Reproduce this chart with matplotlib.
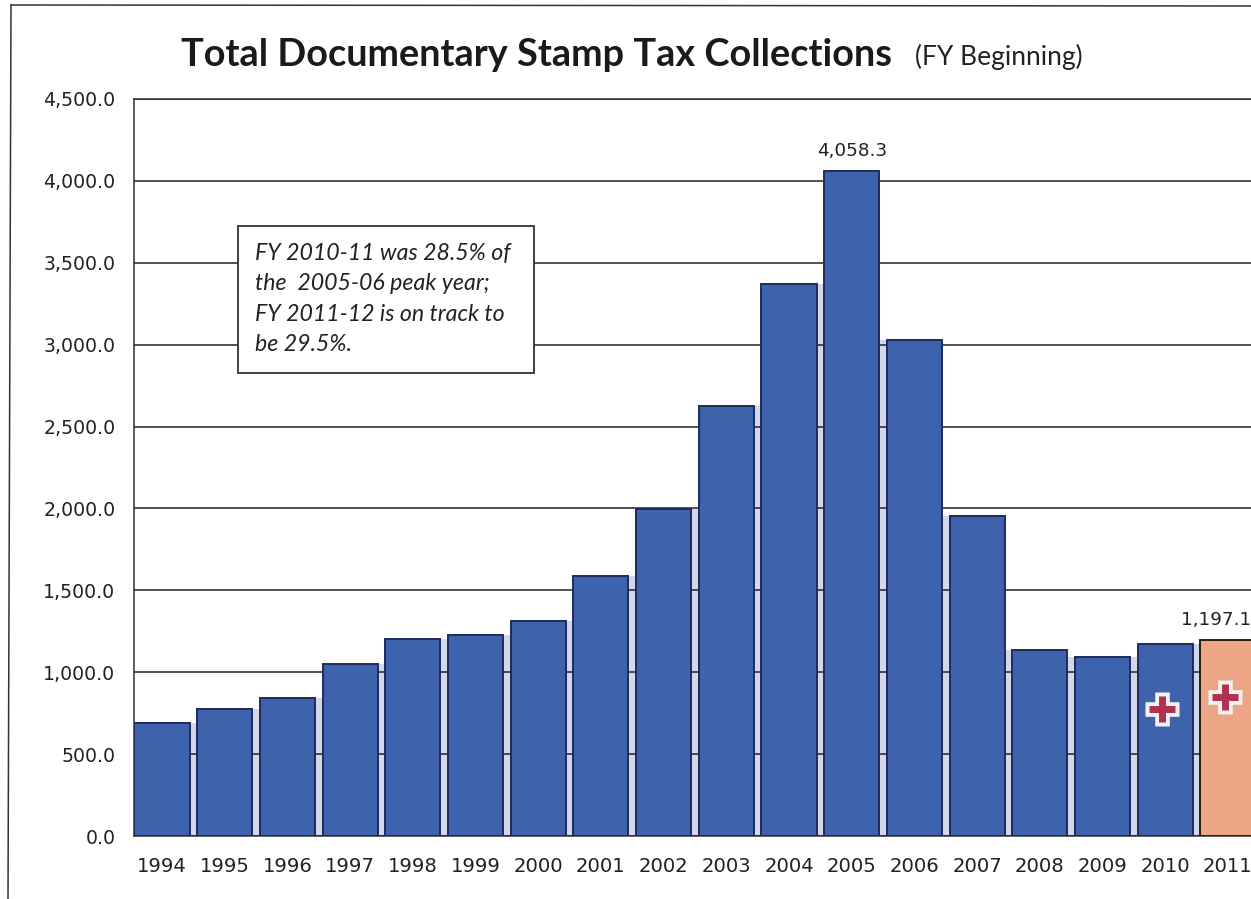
import numpy as np
import matplotlib
matplotlib.use('Agg')
import matplotlib.pyplot as plt
from matplotlib.lines import Line2D
from matplotlib.patches import Rectangle

years = [1994, 1995, 1996, 1997, 1998, 1999, 2000, 2001, 2002,
         2003, 2004, 2005, 2006, 2007, 2008, 2009, 2010, 2011]
collections = [690, 775, 840, 1050, 1200, 1230, 1315, 1585, 1995,
               2625, 3370, 4058.3, 3030, 1955, 1135, 1090, 1170, 1197.1]
y_ticks = [0, 500, 1000, 1500, 2000, 2500, 3000, 3500, 4000, 4500]
labelled_years = [2005, 2011]
label_shift = [0, -8.8]
cross_years = [2010, 2011]
cross_values = [775, 850]
note = ('FY 2010-11 was 28.5% of\n'
        'the  2005-06 peak year;\n'
        'FY 2011-12 is on track to\n'
        'be 29.5%.')

W, H = 1251, 899
fig = plt.figure(figsize=(W / 100, H / 100), dpi=100)

# axes box in pixels, y measured from the top of the page
left, right, top, bottom = 133.5, 1251, 99, 836
ax = fig.add_axes([left / W, 1 - bottom / H, (right - left) / W, (bottom - top) / H])

x = np.arange(len(years))
values = np.array(collections)

# pale glow in the gaps between neighbouring columns
glow = np.minimum(values[:-1], values[1:])
ax.bar(x[:-1] + 0.5, glow, width=0.2, color='#d4d7ec', zorder=1)

ax.set_yticks(y_ticks)
ax.yaxis.grid(True, color='#222222', linewidth=1.1, zorder=2)
ax.set_axisbelow(False)
ax.xaxis.grid(False)
for line in ax.get_ygridlines():
    line.set_zorder(2)

colors = ['#3f62ad'] * (len(years) - 1) + ['#eca685']
edges = ['#1d2c5c'] * (len(years) - 1) + ['#2a1c18']
ax.bar(x, values, width=0.88, color=colors, edgecolor=edges, linewidth=1.4, zorder=3)

# value labels on the peak year and the latest year
for yr, shift in zip(labelled_years, label_shift):
    i = years.index(yr)
    ax.annotate(f'{values[i]:,.1f}', (x[i], values[i]), xytext=(shift, 8),
                textcoords='offset points', ha='center', va='bottom',
                fontsize=13.2, color='#222222', annotation_clip=False, zorder=5)

# white-edged red crosses
cross_x = np.array([years.index(yr) for yr in cross_years]) - 0.05
ax.scatter(cross_x, cross_values, marker='+', s=580, linewidths=10.5, color='#f4f1f0', zorder=4)
ax.scatter(cross_x, cross_values, marker='+', s=340, linewidths=5, color='#b03250', zorder=5)

ax.set_xlim(-(162 - left) / 62.7, (right - 162) / 62.7)
ax.set_ylim(0, 4500)
ax.set_xticks(x)
ax.set_xticklabels(years, fontsize=14.1, color='#222222')
ax.set_yticklabels([f'{v:,.1f}' for v in y_ticks], fontsize=13.6, color='#222222')
ax.tick_params(axis='x', length=0, pad=15)
ax.tick_params(axis='y', length=0, pad=13)
ax.spines['right'].set_visible(False)
for name in ['left', 'top', 'bottom']:
    ax.spines[name].set_color('#333333')
    ax.spines[name].set_linewidth(1.1)

# note box sits over the gridlines
fig.add_artist(Rectangle((238 / W, 1 - 373 / H), 296 / W, 147 / H, transform=fig.transFigure,
                         facecolor='white', edgecolor='#333333', linewidth=1.3, zorder=6))
fig.text(255 / W, 1 - 299 / H, note, family='Lato', style='italic', fontsize=16.7,
         color='#222222', ha='left', va='center', linespacing=1.54, zorder=7)

# title and subtitle
fig.text(181 / W, 1 - 66 / H, 'Total Documentary Stamp Tax Collections', family='Lato',
         weight='bold', fontsize=27.3, color='#1a1a1a', ha='left', va='baseline')
fig.text(915 / W, 1 - 65 / H, '(FY Beginning)', family='Lato', fontsize=19,
         color='#222222', ha='left', va='baseline')

# page border, slightly skewed
fig.add_artist(Line2D([11 / W, 8 / W], [1 - 5 / H, 0], color='#333333', linewidth=1.1))
fig.add_artist(Line2D([11 / W, 1], [1 - 5 / H, 1 - 6 / H], color='#333333', linewidth=1.1))

fig.savefig('out.png', dpi=100, facecolor='white')
